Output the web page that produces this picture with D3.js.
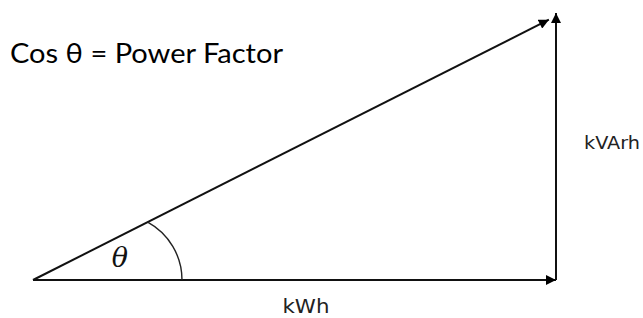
<!DOCTYPE html>
<html>
<head>
<meta charset="utf-8">
<script src="https://cdn.jsdelivr.net/npm/d3@7"></script>
<style>
html,body{margin:0;padding:0;background:#fff;}
svg{display:block;}
</style>
</head>
<body>
<svg id="chart" width="643" height="318"></svg>
<script>
// Data: power triangle components (relative units)
const kWh = 100;          // real energy (horizontal)
const kVArh = 51;         // reactive energy (vertical)
const labels = {title: "Cos θ = Power Factor", x: "kWh", y: "kVArh", angle: "θ"};

const svg = d3.select("#chart");

const x = d3.scaleLinear().domain([0, kWh]).range([33, 556]);
const y = d3.scaleLinear().domain([0, kVArh]).range([280, 13]);

const defs = svg.append("defs");
defs.append("marker")
  .attr("id", "arrow")
  .attr("viewBox", "0 0 10 10")
  .attr("refX", 10).attr("refY", 5)
  .attr("markerUnits", "userSpaceOnUse")
  .attr("markerWidth", 11).attr("markerHeight", 10)
  .attr("orient", "auto")
  .append("path").attr("d", "M0,0 L10,5 L0,10 Z").attr("fill", "#000");

const stroke = "#111";

// kWh (horizontal)
svg.append("line")
  .attr("x1", x(0)).attr("y1", y(0))
  .attr("x2", x(kWh)).attr("y2", y(0))
  .attr("stroke", stroke).attr("stroke-width", 2)
  .attr("marker-end", "url(#arrow)");

// kVArh (vertical)
svg.append("line")
  .attr("x1", x(kWh)).attr("y1", y(0))
  .attr("x2", x(kWh)).attr("y2", y(kVArh))
  .attr("stroke", stroke).attr("stroke-width", 2)
  .attr("marker-end", "url(#arrow)");

// kVAh (hypotenuse), ending slightly before the corner
const x0 = x(0), y0 = y(0), x1 = x(kWh), y1 = y(kVArh);
const len = Math.hypot(x1 - x0, y1 - y0);
const gap = 8;
const ex = x1 - (x1 - x0) / len * gap, ey = y1 - (y1 - y0) / len * gap + 3;
svg.append("line")
  .attr("x1", x0).attr("y1", y0)
  .attr("x2", ex).attr("y2", ey)
  .attr("stroke", stroke).attr("stroke-width", 2)
  .attr("marker-end", "url(#arrow)");

// angle arc: circle centred on base line, tangent vertically at base
const r = 66;
const cx = x0 + 149 - r, cy = y0;
const ux = (ex - x0), uy = (ey - y0);
const ul = Math.hypot(ux, uy);
const dx = ux / ul, dy = uy / ul;
const fx = x0 - cx, fy = y0 - cy;
const b = 2 * (fx * dx + fy * dy);
const c = fx * fx + fy * fy - r * r;
const t = (-b + Math.sqrt(b * b - 4 * c)) / 2;
const px = x0 + t * dx, py = y0 + t * dy;
svg.append("path")
  .attr("d", `M${px},${py} A${r},${r} 0 0 1 ${cx + r},${cy}`)
  .attr("fill", "none").attr("stroke", "#222").attr("stroke-width", 1.4);

// theta label
svg.append("text")
  .attr("x", 120).attr("y", 267)
  .attr("text-anchor", "middle")
  .attr("font-family", "'DejaVu Serif', 'Liberation Serif', serif")
  .attr("font-style", "italic")
  .attr("font-size", 27)
  .attr("fill", "#111")
  .text(labels.angle);

// axis labels
svg.append("text")
  .attr("x", 306).attr("y", 313)
  .attr("text-anchor", "middle")
  .attr("font-family", "'DejaVu Sans', 'Open Sans', sans-serif")
  .attr("font-size", 19)
  .attr("textLength", 47)
  .attr("lengthAdjust", "spacingAndGlyphs")
  .attr("fill", "#222")
  .text(labels.x);

svg.append("text")
  .attr("x", 584).attr("y", 149)
  .attr("font-family", "'DejaVu Sans', 'Open Sans', sans-serif")
  .attr("font-size", 18)
  .attr("textLength", 56)
  .attr("lengthAdjust", "spacingAndGlyphs")
  .attr("fill", "#222")
  .text(labels.y);

// title
svg.append("text")
  .attr("x", 10).attr("y", 63)
  .attr("font-family", "Lato, 'Open Sans', 'Noto Sans', sans-serif")
  .attr("font-size", 27)
  .attr("textLength", 273)
  .attr("lengthAdjust", "spacingAndGlyphs")
  .attr("fill", "#000")
  .text(labels.title);
</script>
</body>
</html>
